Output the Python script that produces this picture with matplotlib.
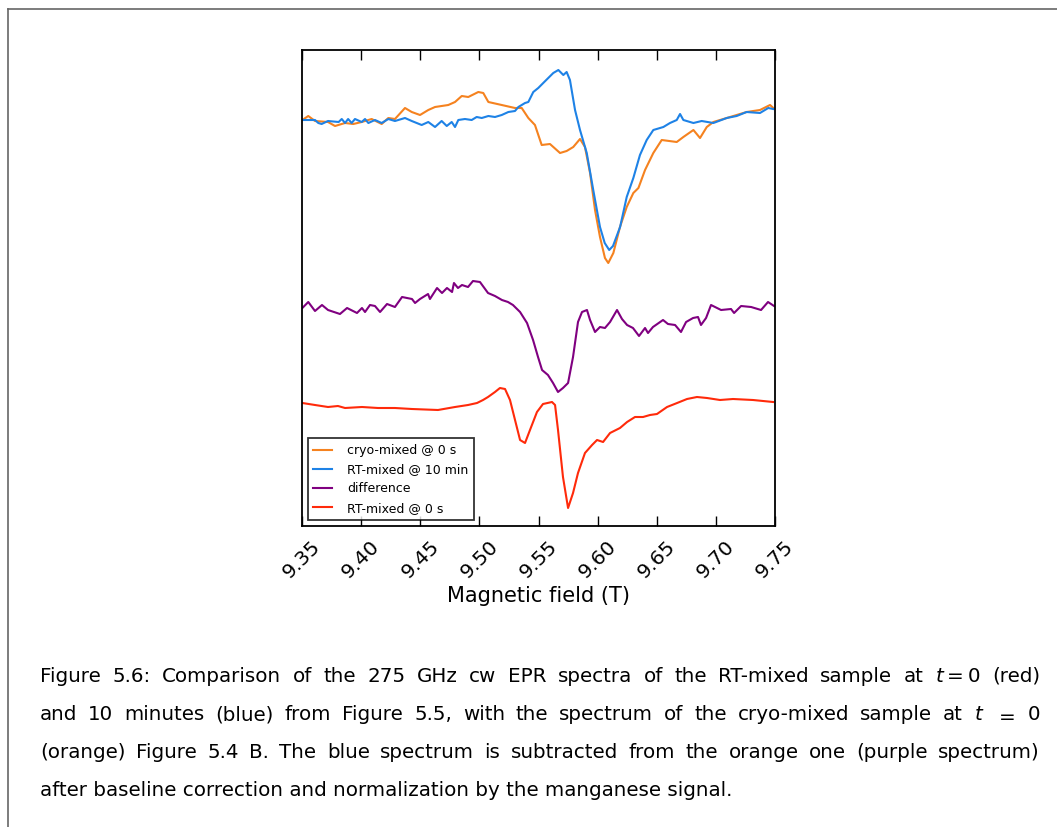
import matplotlib
matplotlib.use("Agg")
import matplotlib.pyplot as plt
from matplotlib.lines import Line2D

# --- data (field in T, intensity in arbitrary units) ---
cryo_B = [9.3503, 9.3553, 9.361, 9.372, 9.3779, 9.3864, 9.3934, 9.4005, 9.4089,
          9.4174, 9.423, 9.4286, 9.4371, 9.4428, 9.4498, 9.4568, 9.4625, 9.4737,
          9.4794, 9.4851, 9.4906, 9.4991, 9.5033, 9.5076, 9.5189, 9.5301, 9.5358,
          9.5414, 9.547, 9.5527, 9.5597, 9.5682, 9.5738, 9.5794, 9.5851, 9.5893,
          9.5936, 9.5978, 9.602, 9.6062, 9.609, 9.6133, 9.6189, 9.6246, 9.6302,
          9.6345, 9.6401, 9.6471, 9.6542, 9.6669, 9.6725, 9.681, 9.6866, 9.6923,
          9.6979, 9.7092, 9.726, 9.7373, 9.7458, 9.7486]
cryo_I = [406, 410, 405, 404, 400, 403, 402, 404, 407,
          402, 408, 407, 418, 414, 411, 416, 419, 421,
          424, 430, 429, 434, 433, 424, 421, 418, 418,
          408, 401, 381, 382, 373, 375, 379, 387, 379,
          353, 316, 289, 268, 263, 273, 299, 319, 333,
          338, 356, 373, 386, 384, 389, 396, 388, 399,
          404, 408, 414, 416, 421, 418]

rt10_B = [9.3503, 9.361, 9.3638, 9.3666, 9.372, 9.381, 9.3836, 9.3864, 9.389,
          9.392, 9.3948, 9.4005, 9.4033, 9.4061, 9.4117, 9.4174, 9.423, 9.4286,
          9.4371, 9.4428, 9.4512, 9.4568, 9.4625, 9.4681, 9.4724, 9.4766, 9.4794,
          9.4822, 9.4878, 9.4935, 9.4977, 9.502, 9.5076, 9.5132, 9.5189, 9.5245,
          9.5301, 9.533, 9.5386, 9.5414, 9.5456, 9.5498, 9.554, 9.5625, 9.5668,
          9.571, 9.5738, 9.5766, 9.5809, 9.5851, 9.5908, 9.5963, 9.602, 9.606,
          9.6098, 9.613, 9.619, 9.6246, 9.6302, 9.6358, 9.6415, 9.6471, 9.6556,
          9.6612, 9.6669, 9.6697, 9.6725, 9.681, 9.688, 9.6979, 9.7092, 9.7176,
          9.726, 9.7373, 9.7443, 9.7485]
rt10_I = [406, 406, 403, 402, 405, 404, 407, 403, 407,
          403, 407, 404, 407, 403, 406, 403, 407, 405,
          408, 405, 401, 404, 399, 405, 400, 404, 399,
          406, 407, 406, 409, 408, 410, 409, 411, 414,
          415, 419, 423, 424, 434, 438, 443, 453, 456,
          451, 454, 446, 416, 396, 373, 336, 299, 283,
          276, 280, 299, 329, 348, 371, 386, 396, 399,
          403, 406, 412, 406, 403, 405, 403, 408, 410,
          414, 413, 418, 417]

diff_B = [9.3503, 9.3553, 9.361, 9.3669, 9.372, 9.3821, 9.3881, 9.3965, 9.4007,
          9.4033, 9.4075, 9.4117, 9.416, 9.4219, 9.4286, 9.4346, 9.443, 9.4456,
          9.4498, 9.4566, 9.4582, 9.4642, 9.4684, 9.4726, 9.4769, 9.4785, 9.4819,
          9.4853, 9.4904, 9.4946, 9.5005, 9.5073, 9.5132, 9.5191, 9.5242, 9.5284,
          9.5344, 9.5403, 9.5454, 9.5496, 9.553, 9.558, 9.5623, 9.5665, 9.5707,
          9.575, 9.5792, 9.5834, 9.5868, 9.591, 9.5936, 9.5978, 9.602, 9.6062,
          9.6105, 9.6164, 9.6206, 9.6249, 9.6299, 9.635, 9.6401, 9.6426, 9.6468,
          9.6553, 9.6595, 9.6655, 9.6705, 9.6748, 9.6807, 9.6849, 9.6874, 9.6917,
          9.6959, 9.7044, 9.7128, 9.7154, 9.7213, 9.7298, 9.7382, 9.7441, 9.7492]
diff_I = [218, 224, 215, 221, 216, 212, 218, 213, 218,
          214, 221, 220, 214, 222, 219, 229, 227, 223,
          227, 232, 227, 238, 233, 238, 234, 243, 238,
          241, 239, 245, 244, 233, 230, 226, 224, 221,
          214, 203, 186, 169, 156, 151, 143, 134, 138,
          143, 169, 204, 214, 216, 206, 194, 199, 198,
          204, 216, 207, 201, 198, 190, 198, 193, 199,
          206, 202, 201, 194, 204, 208, 209, 201, 208,
          221, 216, 217, 213, 220, 219, 216, 224, 220]

rt0_B = [9.3503, 9.361, 9.372, 9.3804, 9.3864, 9.4007, 9.4143, 9.4286, 9.443,
         9.465, 9.4794, 9.4904, 9.498, 9.5031, 9.5073, 9.5132, 9.5174, 9.5217,
         9.5259, 9.5344, 9.5386, 9.5428, 9.5487, 9.5538, 9.5614, 9.564, 9.5665,
         9.5707, 9.575, 9.5792, 9.5834, 9.5893, 9.5953, 9.5995, 9.6046, 9.6105,
         9.6189, 9.6249, 9.6316, 9.6384, 9.6443, 9.6502, 9.6587, 9.6672, 9.6756,
         9.684, 9.6925, 9.7035, 9.7145, 9.7314, 9.7484]
rt0_I = [123, 121, 119, 120, 118, 119, 118, 118, 117,
         116, 119, 121, 123, 126, 129, 134, 138, 137,
         126, 86, 83, 96, 114, 122, 124, 121, 96,
         49, 18, 33, 53, 73, 81, 86, 84, 93,
         98, 104, 109, 109, 111, 112, 119, 123, 127,
         129, 128, 126, 127, 126, 124]

field_ticks = [9.35, 9.40, 9.45, 9.50, 9.55, 9.60, 9.65, 9.70, 9.75]

caption_lines = [
    "Figure 5.6: Comparison of the 275 GHz cw EPR spectra of the RT-mixed sample at $t=0$ (red)",
    "and 10 minutes (blue) from Figure 5.5, with the spectrum of the cryo-mixed sample at $t$ $=$ $0$",
    "(orange) Figure 5.4 B. The blue spectrum is subtracted from the orange one (purple spectrum)",
    "after baseline correction and normalization by the manganese signal.",
]

W, H = 1057, 827
fig = plt.figure(figsize=(W / 100, H / 100), dpi=100)

# page frame (top and left rules)
fig.add_artist(Line2D([8 / W, 1], [1 - 9 / H, 1 - 9 / H], color="#666666", lw=1.2))
fig.add_artist(Line2D([8 / W, 8 / W], [0, 1 - 9 / H], color="#666666", lw=1.2))

ax = fig.add_axes([302 / W, 1 - 526 / H, 473 / W, 476 / H])
ax.plot(cryo_B, cryo_I, color="#f5821f", lw=1.5, label="cryo-mixed @ 0 s")
ax.plot(rt10_B, rt10_I, color="#1e82e6", lw=1.5, label="RT-mixed @ 10 min")
ax.plot(diff_B, diff_I, color="#800080", lw=1.5, label="difference")
ax.plot(rt0_B, rt0_I, color="#ff2a0a", lw=1.5, label="RT-mixed @ 0 s")

ax.set_xlim(9.35, 9.75)
ax.set_ylim(0, 476)
ax.set_xticks(field_ticks)
ax.set_xticklabels([f"{t:.2f}" for t in field_ticks], rotation=45,
                   ha="center", va="top", fontsize=14.5)
ax.set_yticks([])
ax.tick_params(axis="x", direction="in", length=7, width=1, top=True, pad=8)
for s in ax.spines.values():
    s.set_linewidth(1.3)
ax.set_xlabel("Magnetic field (T)", fontsize=15, labelpad=3)

leg = ax.legend(loc="lower left", fontsize=9, fancybox=False, frameon=True,
                handlelength=1.5, borderaxespad=0.45, labelspacing=0.5,
                borderpad=0.45, handletextpad=1.2)
leg.get_frame().set_edgecolor("black")
leg.get_frame().set_linewidth(1.3)

# caption, justified between x=40 and x=1040 except for the last line
fam = ["DejaVu Sans"]
fs = 14.3
x0, x1 = 40 / W, 1040 / W
line_y = [676, 715, 753, 791]
fig.canvas.draw()
renderer = fig.canvas.get_renderer()
for i, (line, yy) in enumerate(zip(caption_lines, line_y)):
    yf = 1 - yy / H
    if i == len(caption_lines) - 1:
        fig.text(x0, yf, line, fontsize=fs, family=fam, va="center", ha="left")
        continue
    words = line.split(" ")
    texts = [fig.text(0, yf, w, fontsize=fs, family=fam, va="center", ha="left") for w in words]
    widths = [t.get_window_extent(renderer).width / W for t in texts]
    gap = (x1 - x0 - sum(widths)) / (len(words) - 1)
    x = x0
    for t, w in zip(texts, widths):
        t.set_x(x)
        x += w + gap

fig.savefig("out.png", dpi=100)
